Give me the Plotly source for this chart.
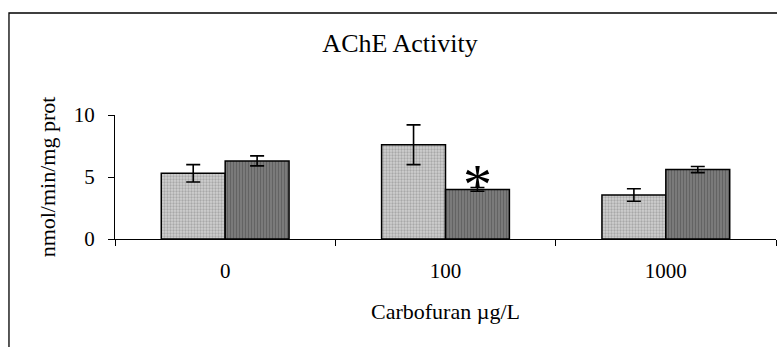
import plotly.graph_objects as go

categories = ["0", "100", "1000"]
series_a = [5.3, 7.6, 3.55]
err_a = [0.7, 1.6, 0.5]
series_b = [6.3, 4.0, 5.6]
err_b = [0.4, 0.15, 0.25]
y_ticks = [0, 5, 10]

FONT = "Liberation Serif"

fig = go.Figure()
fig.add_trace(go.Bar(
    x=categories, y=series_a,
    error_y=dict(type="data", array=err_a, color="black", thickness=1.6, width=7),
    marker=dict(color="#c8c8c8", line=dict(color="black", width=1.5),
                pattern=dict(shape=".", fgcolor="#808080", bgcolor="#d0d0d0", size=3, solidity=0.45)),
    showlegend=False,
))
fig.add_trace(go.Bar(
    x=categories, y=series_b,
    error_y=dict(type="data", array=err_b, color="black", thickness=1.6, width=7),
    marker=dict(color="#6a6a6a", line=dict(color="black", width=1.5),
                pattern=dict(shape="|", fgcolor="#474747", bgcolor="#7e7e7e", size=3, solidity=0.45)),
    showlegend=False,
))

fig.add_annotation(x=1, y=5.0, xref="x", yref="y", text="*", showarrow=False,
                   xshift=32, yshift=-7, font=dict(family=FONT, size=58, color="black"))

fig.add_shape(type="rect", xref="paper", yref="paper",
              x0=-0.1604, x1=1.01, y0=-0.95, y1=1.8226,
              line=dict(color="black", width=1.3), fillcolor="rgba(0,0,0,0)", layer="above")

fig.update_layout(
    width=777, height=347,
    margin=dict(l=115, r=1, t=115, b=108),
    paper_bgcolor="white", plot_bgcolor="white",
    barmode="group", bargap=0.42, bargroupgap=0,
    font=dict(family=FONT, color="black"),
    title=dict(text="AChE Activity", x=400/777, xanchor="center", xref="container",
               y=1 - 43/347, yanchor="middle", font=dict(family=FONT, size=26, color="black")),
    xaxis=dict(type="category", range=[-0.5, 2.5], showline=True, linecolor="black", linewidth=1,
               ticks="outside", tickson="boundaries", ticklen=6, tickcolor="black",
               tickangle=0, tickfont=dict(size=21), ticklabelstandoff=13,
               title=dict(text="Carbofuran µg/L", font=dict(size=22), standoff=21),
               showgrid=False, zeroline=False),
    yaxis=dict(range=[0, 10], tickvals=y_ticks, showline=True, linecolor="black", linewidth=1,
               ticks="outside", ticklen=6, tickcolor="black",
               tickfont=dict(size=21), ticklabelstandoff=9,
               title=dict(text="nmol/min/mg prot", font=dict(size=22), standoff=12),
               showgrid=False, zeroline=False),
)

fig.write_html("out.html")
